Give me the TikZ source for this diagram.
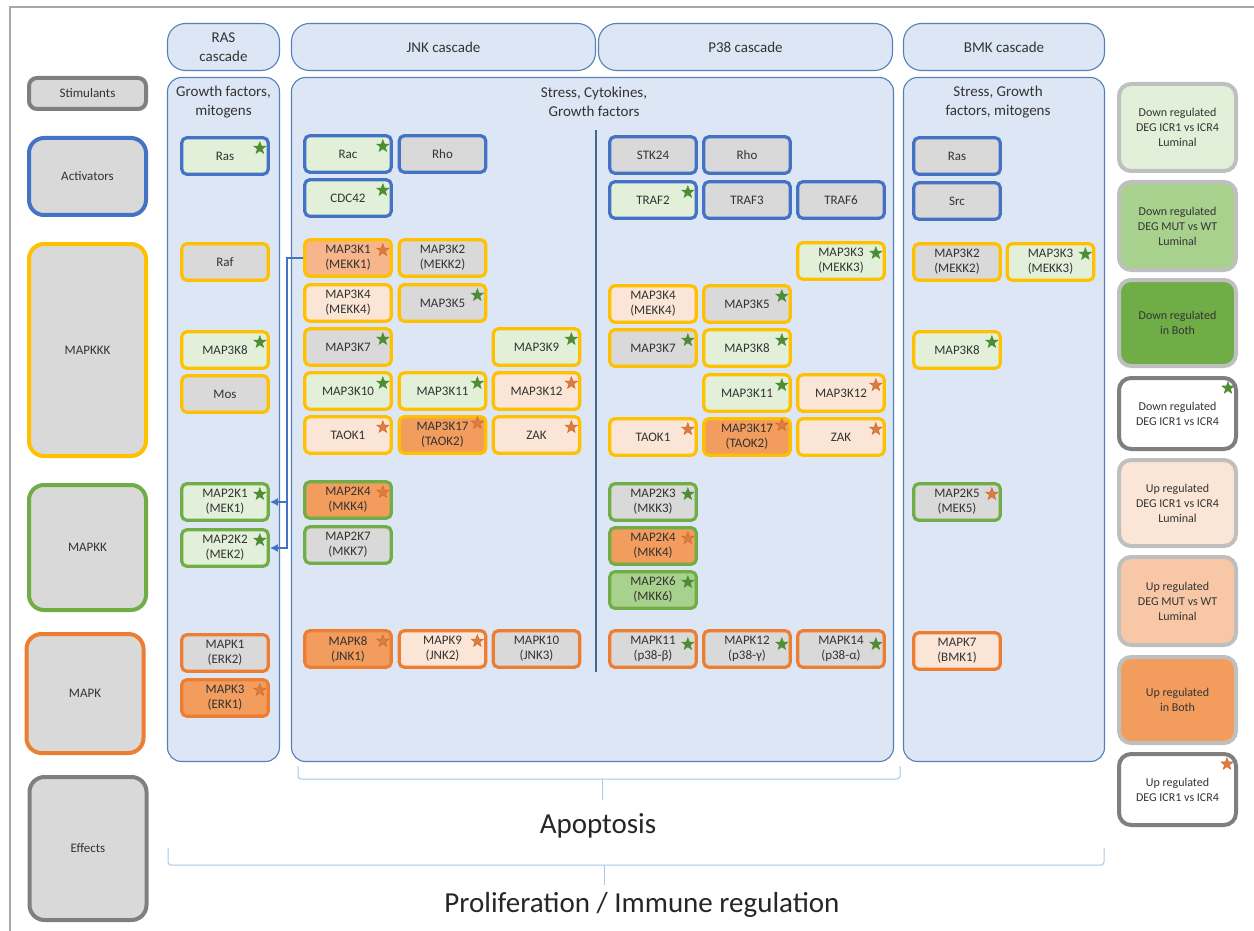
\documentclass[tikz,border=0pt]{standalone}
\usepackage{fontspec}
\setmainfont{Carlito}
\usetikzlibrary{shapes.geometric,arrows.meta}
\definecolor{cBl}{HTML}{4472C4}
\definecolor{cYe}{HTML}{FFC000}
\definecolor{cGr}{HTML}{70AD47}
\definecolor{cOr}{HTML}{ED7D31}
\definecolor{cGyB}{HTML}{7F7F7F}
\definecolor{cLgB}{HTML}{BFBFBF}
\definecolor{cTx}{HTML}{333333}
\definecolor{fGy}{HTML}{D9D9D9}
\definecolor{fLg}{HTML}{E2F0D9}
\definecolor{fMg}{HTML}{A9D18E}
\definecolor{fDg}{HTML}{70AD47}
\definecolor{fLo}{HTML}{FBE5D6}
\definecolor{fMo}{HTML}{F6B58A}
\definecolor{fMo2}{HTML}{F8CBAD}
\definecolor{fDo}{HTML}{F29D5E}
\definecolor{pFill}{HTML}{DCE6F4}
\definecolor{pLine}{HTML}{5580B8}
\definecolor{brc}{HTML}{A9C8E8}
\definecolor{frm}{HTML}{A6A6A6}
\definecolor{sG}{HTML}{4F8D35}
\definecolor{sO}{HTML}{D2661F}
\newcommand\stG[2][12]{\node[starshp,fill=sG,draw=sG] (#2-s) at ([xshift=-10pt,yshift=-#1pt]#2.north east) {};}
\newcommand\stO[2][12]{\node[starshp,fill=sO!85!white,draw=sO] (#2-s) at ([xshift=-10pt,yshift=-#1pt]#2.north east) {};}
\begin{document}
\begin{tikzpicture}[x=1pt,y=-1pt,
  g/.style={rectangle,rounded corners=5pt,line width=3.2pt,minimum width=86.5pt,minimum height=36.5pt,inner sep=0pt,align=center,font=\fontsize{13}{15}\selectfont,text=cTx},
  bBl/.style={draw=cBl},bYe/.style={draw=cYe},bGr/.style={draw=cGr},bOr/.style={draw=cOr},
  xGy/.style={fill=fGy},xLg/.style={fill=fLg},xMg/.style={fill=fMg},xLo/.style={fill=fLo},xMo/.style={fill=fMo},xDo/.style={fill=fDo},
  cat/.style={rectangle,rounded corners=15pt,line width=4pt,fill=fGy,minimum width=117pt,inner sep=0pt,align=center,font=\fontsize{13}{15}\selectfont,text=cTx},
  leg/.style={rectangle,rounded corners=12pt,line width=4pt,minimum width=117pt,inner sep=0pt,align=center,font=\fontsize{12}{15}\selectfont,text=cTx},
  panel/.style={rectangle,rounded corners=14pt,line width=1.1pt,draw=pLine,fill=pFill,inner sep=0pt},
  hdr/.style={rectangle,rounded corners=18pt,line width=1.1pt,draw=pLine,fill=pFill,inner sep=0pt,minimum height=47pt,align=center,font=\fontsize{15}{19}\selectfont,text=cTx},
  ptitle/.style={align=center,font=\fontsize{15}{19}\selectfont,text=cTx,inner sep=0pt},
  starshp/.style={star,star points=5,star point ratio=2.4,minimum size=13pt,inner sep=0pt,line width=0.4pt},
  conn/.style={draw=cBl,line width=1.5pt,-{Latex[length=8pt,width=8pt]}},
  brace/.style={draw=brc,line width=1pt,rounded corners=3pt},
  big/.style={font=\fontsize{29}{33}\selectfont,text=black!85,inner sep=0pt}]
\useasboundingbox (0,0) rectangle (1254,931);
\fill[white] (0,0) rectangle (1254,931);
% frame
\draw[frm,line width=1.5pt] (10,931) -- (10,7) -- (1254,7);
% panels and headers
\node[panel,minimum width=112pt,minimum height=684pt] (pRas) at (223.5,419.5) {};
\node[panel,minimum width=602pt,minimum height=684pt] (pJP) at (592.5,419.5) {};
\node[panel,minimum width=201pt,minimum height=684pt] (pBmk) at (1004,419.5) {};
\node[hdr,minimum width=112pt] (hRas) at (223.5,47) {RAS\\cascade};
\node[hdr,minimum width=304pt] (hJnk) at (443.5,47) {JNK cascade};
\node[hdr,minimum width=294pt] (hP38) at (745.5,47) {P38 cascade};
\node[hdr,minimum width=201pt] (hBmk) at (1004,47) {BMK cascade};
\node[ptitle] (tRas) at (223.5,102) {Growth factors,\\mitogens};
\node[ptitle] (tJP) at (594,102) {Stress, Cytokines,\\Growth factors};
\node[ptitle] (tBmk) at (998,102) {Stress, Growth\\factors, mitogens};
\coordinate (dvT) at (596,130);
\coordinate (dvB) at (596,672);
\draw[draw=pLine!80!black,line width=1.2pt] (dvT) -- (dvB);
% category boxes
\node[cat,draw=cGyB,rounded corners=8pt,minimum height=31pt] (cStim) at (87.5,93.5) {Stimulants};
\node[cat,draw=cBl,minimum height=77pt] (cAct) at (87.5,176.5) {Activators};
\node[cat,draw=cYe,minimum height=212pt] (cKKK) at (87.5,350) {MAPKKK};
\node[cat,draw=cGr,minimum height=125pt] (cKK) at (87.5,547.5) {MAPKK};
\node[cat,draw=cOr,minimum height=119pt] (cK) at (85,693.5) {MAPK};
\node[cat,draw=cGyB,minimum height=143pt] (cEff) at (88,848.5) {Effects};
% RAS column
\node[g,bBl,xLg] (rRas) at (225,156) {Ras};
\node[g,bYe,xGy] (rRaf) at (225,262) {Raf};
\node[g,bYe,xLg] (rK8) at (225,350) {MAP3K8};
\node[g,bYe,xGy] (rMos) at (225,394) {Mos};
\node[g,bGr,xLg] (rM1) at (225,502) {MAP2K1\\(MEK1)};
\node[g,bGr,xLg] (rM2) at (225,548) {MAP2K2\\(MEK2)};
\node[g,bOr,xGy] (rE2) at (225,653) {MAPK1\\(ERK2)};
\node[g,bOr,xDo] (rE1) at (225,698) {MAPK3\\(ERK1)};
\stG{rRas}\stG{rK8}\stG{rM1}\stG{rM2}\stO{rE1}
% JNK column
\node[g,bBl,xLg] (jRac) at (348,154) {Rac};
\node[g,bBl,xGy] (jRho) at (442.5,154) {Rho};
\node[g,bBl,xLg] (jCdc) at (348,198) {CDC42};
\node[g,bYe,xMo] (jK1) at (348,258) {MAP3K1\\(MEKK1)};
\node[g,bYe,xGy] (jK2) at (442.5,258) {MAP3K2\\(MEKK2)};
\node[g,bYe,xLo] (jK4) at (348,303) {MAP3K4\\(MEKK4)};
\node[g,bYe,xGy] (jK5) at (442.5,303) {MAP3K5};
\node[g,bYe,xGy] (jK7) at (348,347) {MAP3K7};
\node[g,bYe,xLg] (jK9) at (536.5,347) {MAP3K9};
\node[g,bYe,xLg] (jK10) at (348,391) {MAP3K10};
\node[g,bYe,xLg] (jK11) at (442.5,391) {MAP3K11};
\node[g,bYe,xLo] (jK12) at (536.5,391) {MAP3K12};
\node[g,bYe,xLo] (jT1) at (348,435) {TAOK1};
\node[g,bYe,xDo] (jK17) at (442.5,435) {MAP3K17\\(TAOK2)};
\node[g,bYe,xLo] (jZak) at (536.5,435) {ZAK};
\node[g,bGr,xDo] (jM4) at (348,500) {MAP2K4\\(MKK4)};
\node[g,bGr,xGy] (jM7) at (348,545) {MAP2K7\\(MKK7)};
\node[g,bOr,xDo] (jJ1) at (348,649) {MAPK8\\(JNK1)};
\node[g,bOr,xLo] (jJ2) at (442.5,649) {MAPK9\\(JNK2)};
\node[g,bOr,xGy] (jJ3) at (536.5,649) {MAPK10\\(JNK3)};
\stG{jRac}\stG{jCdc}\stO{jK1}\stG{jK5}\stG{jK7}\stG{jK9}\stG{jK10}\stG{jK11}\stO{jK12}\stO{jT1}\stO[8]{jK17}\stO{jZak}\stO{jM4}\stO{jJ1}\stO{jJ2}
% P38 column
\node[g,bBl,xGy] (pStk) at (653,155) {STK24};
\node[g,bBl,xGy] (pRho) at (747,155) {Rho};
\node[g,bBl,xLg] (pTr2) at (653,200) {TRAF2};
\node[g,bBl,xGy] (pTr3) at (747,200) {TRAF3};
\node[g,bBl,xGy] (pTr6) at (841,200) {TRAF6};
\node[g,bYe,xLg] (pK3) at (841,261) {MAP3K3\\(MEKK3)};
\node[g,bYe,xLo] (pK4) at (653,304) {MAP3K4\\(MEKK4)};
\node[g,bYe,xGy] (pK5) at (747,304) {MAP3K5};
\node[g,bYe,xGy] (pK7) at (653,348) {MAP3K7};
\node[g,bYe,xLg] (pK8) at (747,348) {MAP3K8};
\node[g,bYe,xLg] (pK11) at (747,393) {MAP3K11};
\node[g,bYe,xLo] (pK12) at (841,393) {MAP3K12};
\node[g,bYe,xLo] (pT1) at (653,437) {TAOK1};
\node[g,bYe,xDo] (pK17) at (747,437) {MAP3K17\\(TAOK2)};
\node[g,bYe,xLo] (pZak) at (841,437) {ZAK};
\node[g,bGr,xGy] (pM3) at (653,502) {MAP2K3\\(MKK3)};
\node[g,bGr,xDo] (pM4) at (653,546) {MAP2K4\\(MKK4)};
\node[g,bGr,xMg] (pM6) at (653,590) {MAP2K6\\(MKK6)};
\node[g,bOr,xGy] (pP11) at (653,649) {MAPK11\\(p38-β)};
\node[g,bOr,xGy] (pP12) at (747,649) {MAPK12\\(p38-γ)};
\node[g,bOr,xGy] (pP14) at (841,649) {MAPK14\\(p38-α)};
\stG{pTr2}\stG{pK3}\stG{pK5}\stG{pK7}\stG{pK8}\stG{pK11}\stO{pK12}\stO{pT1}\stO[8]{pK17}\stO{pZak}\stG{pM3}\stO{pM4}\stG{pM6}
\stG[15]{pP11}\stG[15]{pP12}\stG[15]{pP14}
% BMK column
\node[g,bBl,xGy] (bRas) at (957,156) {Ras};
\node[g,bBl,xGy] (bSrc) at (957,201) {Src};
\node[g,bYe,xGy] (bK2) at (957,262) {MAP3K2\\(MEKK2)};
\node[g,bYe,xLg] (bK3) at (1050.5,262) {MAP3K3\\(MEKK3)};
\node[g,bYe,xLg] (bK8) at (957,350) {MAP3K8};
\node[g,bGr,xGy] (bM5) at (957,502) {MAP2K5\\(MEK5)};
\node[g,bOr,xLo] (bB1) at (957,651) {MAPK7\\(BMK1)};
\stG{bK3}\stG{bK8}\stO{bM5}
% arrows
\coordinate (br) at (287,258);
\draw[conn] (jK1.west) -- (br) |- (rM1.east);
\draw[conn] (br) |- (rM2.east);
% legend
\node[leg,draw=cLgB,fill=fLg,minimum height=87pt] (L1) at (1177.5,127.5) {Down regulated\\DEG ICR1 vs ICR4\\Luminal};
\node[leg,draw=cLgB,fill=fMg,minimum height=88pt] (L2) at (1177.5,226) {Down regulated\\DEG MUT vs WT\\Luminal};
\node[leg,draw=cLgB,fill=fDg,minimum height=86pt] (L3) at (1177.5,323) {Down regulated\\in Both};
\node[leg,draw=cGyB,fill=white,minimum height=71pt] (L4) at (1177.5,413.5) {Down regulated\\DEG ICR1 vs ICR4};
\node[leg,draw=cLgB,fill=fLo,minimum height=86pt] (L5) at (1177.5,503) {Up regulated\\DEG ICR1 vs ICR4\\Luminal};
\node[leg,draw=cLgB,fill=fMo2!80!fMo,minimum height=88pt] (L6) at (1177.5,601) {Up regulated\\DEG MUT vs WT\\Luminal};
\node[leg,draw=cLgB,fill=fDo,minimum height=86pt] (L7) at (1177.5,700) {Up regulated\\in Both};
\node[leg,draw=cGyB,fill=white,minimum height=71pt] (L8) at (1177.5,789.5) {Up regulated\\DEG ICR1 vs ICR4};
\node[starshp,fill=sG,draw=sG] (L4-s) at ([xshift=-10pt,yshift=-12pt]L4.north east) {};
\node[starshp,fill=sO!85!white,draw=sO] (L8-s) at ([xshift=-11pt,yshift=-12pt]L8.north east) {};
% braces
\coordinate (a1) at (298,766); \coordinate (a2) at (900,766); \coordinate (aT) at (602,800);
\draw[brace] (a1) -- (298,779) -- (900,779) -- (a2);
\draw[brace] (602,779) -- (aT);
\node[big] (apop) at (598,826) {Apoptosis};
\coordinate (b1) at (168,848); \coordinate (b2) at (1104,848); \coordinate (bT) at (604,885);
\draw[brace] (b1) -- (168,865) -- (1104,865) -- (b2);
\draw[brace] (604,865) -- (bT);
\node[big] (prol) at (642,905) {Proliferation / Immune regulation};
\end{tikzpicture}
\end{document}
